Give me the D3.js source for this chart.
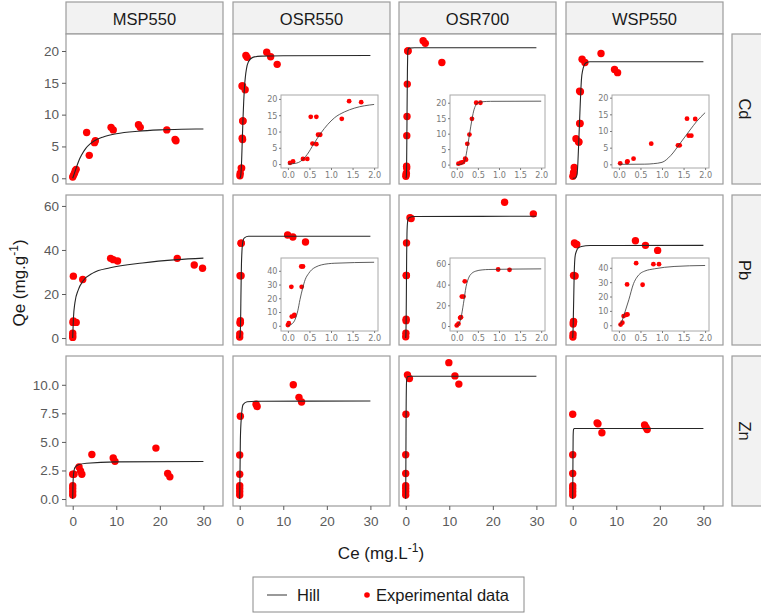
<!DOCTYPE html>
<html>
<head>
<meta charset="utf-8">
<script src="https://cdn.jsdelivr.net/npm/d3@7"></script>
<style>
  body { margin: 0; background: #fff; }
  text { font-family: "Liberation Sans", Arial, Helvetica, sans-serif; }
</style>
</head>
<body>
<div id="chart"></div>
<script>
// ---------------- data ----------------
var metals = ["Cd", "Pb", "Zn"];
var biochars = ["MSP550", "OSR550", "OSR700", "WSP550"];

var xTicks = [0, 10, 20, 30];
var cdTicks = [0, 5, 10, 15, 20];
var pbTicks = [0, 20, 40, 60];
var znTicks = [0, 2.5, 5, 7.5, 10];
var insetXTicks = [0, 0.5, 1, 1.5, 2];
var insetCdTicks = [0, 5, 10, 15, 20];
var insetPbTicks = [0, 10, 20, 30, 40];
var insetPbOSR700Ticks = [0, 20, 40, 60];

// experimental points [Ce, Qe]
var cdMSP550 = [[0,0.2],[0.2,0.5],[0.4,0.8],[0.6,1.2],[0.8,1.4],[3.2,7.2],[3.8,3.6],[5.0,5.6],[5.2,5.9],[8.8,8.0],[9.3,7.6],[15.1,8.4],[15.5,8.0],[21.6,7.6],[23.5,6.1],[23.7,5.9]];
var cdOSR550 = [[0.05,0.4],[0.12,0.8],[0.35,1.6],[0.45,1.6],[0.53,14.5],[0.66,14.5],[0.57,6.3],[0.66,6.1],[0.7,9.0],[0.75,9.0],[1.25,13.9],[1.42,19.3],[1.7,19.0],[6.2,19.8],[7.1,19.1],[8.6,17.9]];
var cdOSR700 = [[0.04,0.3],[0.1,0.6],[0.15,0.8],[0.2,1.9],[0.22,1.6],[0.25,6.7],[0.3,9.7],[0.36,14.8],[0.46,20.0],[0.56,20.0],[4.0,21.6],[4.5,21.2],[8.3,18.2]];
var cdWSP550 = [[0.03,0.3],[0.19,0.7],[0.2,0.9],[0.34,1.7],[0.75,6.2],[1.37,5.7],[1.41,5.7],[1.58,13.7],[1.62,8.6],[1.68,8.6],[1.77,13.6],[2.15,18.7],[2.8,18.2],[6.5,19.6],[9.6,17.1],[10.3,16.6]];

var pbMSP550 = [[0,0.3],[0,1.0],[0,2.2],[0.05,7.1],[0.15,7.8],[0.8,7.1],[0.15,28.1],[2.3,26.6],[8.7,36.2],[9.3,35.6],[10.3,35.0],[24.0,36.2],[27.9,33.2],[29.8,31.7]];
var pbOSR550 = [[0,0.5],[0.02,1.9],[0.09,6.7],[0.14,7.2],[0.15,7.9],[0.08,28.3],[0.32,28.3],[0.31,43.1],[0.35,43.1],[11.0,46.8],[12.2,45.9],[15.1,43.6]];
var pbOSR700 = [[0,0.6],[0.04,2.2],[0.08,7.9],[0.1,8.5],[0.12,28.4],[0.16,28.4],[0.19,43.2],[0.98,54.6],[1.25,54.3],[22.7,61.7],[29.3,56.4]];
var pbWSP550 = [[0.04,0.5],[0.08,1.8],[0.11,6.4],[0.17,7.3],[0.2,7.5],[0.19,28.4],[0.4,43.2],[0.55,28.2],[0.8,42.5],[0.93,42.5],[14.4,44.2],[16.7,42.1],[19.5,39.8]];

var znMSP550 = [[0,0.35],[0,0.64],[0,0.93],[0,1.16],[0,2.17],[0.3,2.17],[1.45,2.8],[1.8,2.46],[2.1,2.17],[4.4,3.9],[9.3,3.6],[9.7,3.3],[19.1,4.46],[21.8,2.23],[22.3,1.94]];
var znOSR550 = [[0,0.35],[0,0.64],[0,0.93],[0,1.16],[0,2.17],[0,3.86],[0.15,7.25],[3.75,8.3],[4.0,8.1],[12.3,10.0],[13.6,8.9],[14.2,8.5]];
var znOSR700 = [[0,0.35],[0,0.64],[0,0.93],[0,1.16],[0,2.23],[0,3.88],[0.05,7.42],[0.4,10.87],[0.85,10.55],[9.9,11.94],[11.3,10.78],[12.2,10.06]];
var znWSP550 = [[0,0.35],[0,0.64],[0,0.93],[0,1.16],[0,2.23],[0,3.88],[0,7.42],[5.6,6.67],[5.8,6.58],[6.7,5.8],[16.5,6.49],[16.8,6.29],[17.1,6.09]];

// Hill fit lines, read as points along the drawn curve [Ce, Qe]
var cdMSP550Hill = [[0,0],[0.5,1.0],[1,2.0],[1.5,2.9],[2,3.6],[3,4.7],[4,5.4],[5,5.9],[7,6.5],[10,7.0],[15,7.4],[20,7.6],[25,7.7],[30,7.75]];
var cdOSR550Hill = [[0,0],[0.2,0.3],[0.3,0.9],[0.45,3.0],[0.6,6.2],[0.77,9.6],[0.92,12.1],[1.08,14.2],[1.31,16.0],[1.55,17.2],[2,18.3],[3,19.0],[5,19.2],[10,19.25],[30,19.3]];
var cdOSR700Hill = [[0,0],[0.1,0.1],[0.16,0.6],[0.2,1.7],[0.24,4.5],[0.27,7.0],[0.31,10.5],[0.35,13.8],[0.4,17.3],[0.45,19.2],[0.5,20.0],[0.6,20.3],[0.8,20.45],[2,20.5],[30,20.5]];
var cdWSP550Hill = [[0,0],[0.6,0.05],[0.8,0.2],[1.0,0.6],[1.2,2.6],[1.42,6.3],[1.65,10.3],[1.8,12.8],[2,15.5],[2.3,17.0],[2.6,17.7],[3,18.1],[4,18.3],[30,18.3]];

var pbMSP550Hill = [[0,0],[0.15,8.5],[0.5,16],[1.3,22],[2.4,26],[4.7,29.6],[8.6,31.9],[16,34.1],[24,35.6],[30,36.3]];
var pbOSR550Hill = [[0,0],[0.1,1.5],[0.17,4.8],[0.23,11],[0.28,19],[0.34,27],[0.4,33.5],[0.48,38],[0.55,40.7],[0.65,42.8],[0.78,44.3],[1.09,45.5],[2,46.2],[30,46.2]];
var pbOSR700Hill = [[0,0],[0.05,2],[0.1,7.9],[0.16,22],[0.22,37.9],[0.29,47.3],[0.36,51],[0.45,53],[0.6,54.2],[0.76,54.6],[2,55.2],[30,55.3]];
var pbWSP550Hill = [[0,0],[0.05,1.5],[0.11,6.4],[0.17,12],[0.23,17.7],[0.34,29],[0.42,33.5],[0.49,35.9],[0.6,37.7],[0.83,39.3],[1.28,40.9],[2,41.6],[4,42],[30,42.1]];

var znMSP550Hill = [[0,0],[0.05,1.0],[0.15,2.0],[0.5,2.75],[1.3,3.0],[3.2,3.13],[10,3.25],[30,3.28]];
var znOSR550Hill = [[0,0],[0.15,5.2],[0.4,7.25],[0.77,8.26],[1.7,8.52],[5,8.56],[30,8.58]];
var znOSR700Hill = [[0,0],[0.05,4],[0.1,8],[0.2,10.3],[0.4,10.7],[1,10.75],[30,10.75]];
var znWSP550Hill = [[0,0],[0.05,3],[0.1,5.5],[0.2,6.1],[0.4,6.17],[30,6.17]];

var points = {
  Cd: { MSP550: cdMSP550, OSR550: cdOSR550, OSR700: cdOSR700, WSP550: cdWSP550 },
  Pb: { MSP550: pbMSP550, OSR550: pbOSR550, OSR700: pbOSR700, WSP550: pbWSP550 },
  Zn: { MSP550: znMSP550, OSR550: znOSR550, OSR700: znOSR700, WSP550: znWSP550 }
};
var hills = {
  Cd: { MSP550: cdMSP550Hill, OSR550: cdOSR550Hill, OSR700: cdOSR700Hill, WSP550: cdWSP550Hill },
  Pb: { MSP550: pbMSP550Hill, OSR550: pbOSR550Hill, OSR700: pbOSR700Hill, WSP550: pbWSP550Hill },
  Zn: { MSP550: znMSP550Hill, OSR550: znOSR550Hill, OSR700: znOSR700Hill, WSP550: znWSP550Hill }
};

// ---------------- layout ----------------
var svgWidth = 761;
var svgHeight = 615;

var colX = [66, 233, 399, 566];
var rowY = [34, 195, 356];
var pw = 157, ph = 150;

var xDomain = [-1.54, 34.5];
var rowDomains = [[-0.9, 22.67], [-3.16, 64.96], [-0.61, 12.52]];
var rowTicks = [cdTicks, pbTicks, znTicks];

// zoomed insets (Ce 0-2) inside some panels
var insets = {
  "Cd-OSR550": { domain: [-1.2, 21.2], ticks: insetCdTicks },
  "Cd-OSR700": { domain: [-1.1, 22.5], ticks: insetCdTicks },
  "Cd-WSP550": { domain: [-1.1, 20.8], ticks: insetCdTicks },
  "Pb-OSR550": { domain: [-3.8, 49.3], ticks: insetPbTicks },
  "Pb-OSR700": { domain: [-4.8, 65.7], ticks: insetPbOSR700Ticks },
  "Pb-WSP550": { domain: [-4.0, 46.8], ticks: insetPbTicks }
};
var insetLeft = [0, 48, 51, 46];
var insetWidth = [0, 97, 95, 97];
var insetTop = [61, 63, 0];
var insetHeight = 73;

var svg = d3.select("#chart")
  .append("svg")
  .attr("width", svgWidth)
  .attr("height", svgHeight);

var defs = svg.append("defs");

var gridGrey = "#9c9c9c";
var tickGrey = "#5a5a5a";

// top strips
biochars.forEach(function(b, ci) {
  svg.append("rect")
    .attr("x", colX[ci]).attr("y", 2)
    .attr("width", pw).attr("height", rowY[0] - 2)
    .attr("fill", "#f2f2f2")
    .attr("stroke", gridGrey).attr("stroke-width", 1.2);
  svg.append("text")
    .attr("x", colX[ci] + pw / 2).attr("y", 25)
    .attr("text-anchor", "middle")
    .attr("font-size", 16.5)
    .attr("fill", "#1a1a1a")
    .text(b);
});

// right strips
metals.forEach(function(m, ri) {
  svg.append("rect")
    .attr("x", 732).attr("y", rowY[ri])
    .attr("width", 32).attr("height", ph)
    .attr("fill", "#f2f2f2")
    .attr("stroke", gridGrey).attr("stroke-width", 1.2);
  svg.append("text")
    .attr("transform", `translate(745, ${rowY[ri] + ph / 2}) rotate(90)`)
    .attr("text-anchor", "middle")
    .attr("dominant-baseline", "central")
    .attr("font-size", 16.5)
    .attr("fill", "#1a1a1a")
    .text(m);
});

var line = d3.line().curve(d3.curveMonotoneX);

function styleAxis(g, size, colour) {
  g.select(".domain").remove();
  g.selectAll(".tick line").attr("stroke", colour);
  g.selectAll(".tick text")
    .attr("fill", colour)
    .attr("font-size", size);
}

// ---------------- panels ----------------
metals.forEach(function(m, ri) {
  biochars.forEach(function(b, ci) {
    var g = svg.append("g")
      .attr("transform", `translate(${colX[ci]}, ${rowY[ri]})`);

    var x = d3.scaleLinear().domain(xDomain).range([0, pw]);
    var y = d3.scaleLinear().domain(rowDomains[ri]).range([ph, 0]);

    var clipId = "clip-" + m + "-" + b;
    defs.append("clipPath").attr("id", clipId)
      .append("rect").attr("width", pw).attr("height", ph);

    g.append("rect")
      .attr("width", pw).attr("height", ph)
      .attr("fill", "#fff");

    var inner = g.append("g").attr("clip-path", `url(#${clipId})`);

    inner.selectAll("circle")
      .data(points[m][b])
      .enter()
      .append("circle")
      .attr("cx", d => x(d[0]))
      .attr("cy", d => y(d[1]))
      .attr("r", 3.7)
      .attr("fill", "#ff0000");

    inner.append("path")
      .attr("d", line(hills[m][b].map(d => [x(d[0]), y(d[1])])))
      .attr("fill", "none")
      .attr("stroke", "#262626")
      .attr("stroke-width", 1.1);

    g.append("rect")
      .attr("width", pw).attr("height", ph)
      .attr("fill", "none")
      .attr("stroke", gridGrey).attr("stroke-width", 1.2);

    if (ci === 0) {
      var yAxis = d3.axisLeft(y).tickValues(rowTicks[ri]).tickSize(4).tickPadding(3);
      if (m === "Zn") yAxis.tickFormat(d3.format(".1f"));
      var ya = g.append("g").call(yAxis);
      styleAxis(ya, 13.5, tickGrey);
    }
    if (ri === metals.length - 1) {
      var xa = g.append("g")
        .attr("transform", `translate(0, ${ph})`)
        .call(d3.axisBottom(x).tickValues(xTicks).tickSize(4).tickPadding(6));
      styleAxis(xa, 13.5, tickGrey);
    }

    // inset
    var ins = insets[m + "-" + b];
    if (ins) {
      var iw = insetWidth[ci], ih = insetHeight;
      var ig = g.append("g")
        .attr("transform", `translate(${insetLeft[ci]}, ${insetTop[ri]})`);
      var ix = d3.scaleLinear().domain([-0.16, 2.09]).range([0, iw]);
      var iy = d3.scaleLinear().domain(ins.domain).range([ih, 0]);

      ig.append("rect")
        .attr("x", -14).attr("y", -3)
        .attr("width", iw + 17).attr("height", ih + 16)
        .attr("fill", "#fff");

      ig.selectAll("circle")
        .data(points[m][b].filter(d => d[0] <= 2))
        .enter()
        .append("circle")
        .attr("cx", d => ix(d[0]))
        .attr("cy", d => iy(d[1]))
        .attr("r", 2.4)
        .attr("fill", "#ff0000");

      ig.append("path")
        .attr("d", line(hills[m][b].filter(d => d[0] <= 2).map(d => [ix(d[0]), iy(d[1])])))
        .attr("fill", "none")
        .attr("stroke", "#333")
        .attr("stroke-width", 0.8);

      ig.append("rect")
        .attr("width", iw).attr("height", ih)
        .attr("fill", "none")
        .attr("stroke", "#a8a8a8").attr("stroke-width", 1);

      var iya = ig.append("g")
        .call(d3.axisLeft(iy).tickValues(ins.ticks).tickSize(2).tickPadding(1.5));
      styleAxis(iya, 9, "#7a7a7a");
      var ixa = ig.append("g")
        .attr("transform", `translate(0, ${ih})`)
        .call(d3.axisBottom(ix).tickValues(insetXTicks).tickSize(2).tickPadding(2)
          .tickFormat(d3.format(".1f")));
      styleAxis(ixa, 9, "#7a7a7a");
      ig.selectAll(".tick text")
        .style("font-family", "'Liberation Sans Narrow', 'DejaVu Sans Condensed', sans-serif");
    }
  });
});

// ---------------- axis titles ----------------
var yTitle = svg.append("text")
  .attr("transform", "translate(25, 283) rotate(-90)")
  .attr("text-anchor", "middle")
  .attr("font-size", 17)
  .attr("fill", "#1a1a1a");
yTitle.append("tspan").text("Qe (mg.g");
yTitle.append("tspan").attr("dy", -7).attr("font-size", 12).text("-1");
yTitle.append("tspan").attr("dy", 7).text(")");

var xTitle = svg.append("text")
  .attr("x", 381).attr("y", 559)
  .attr("text-anchor", "middle")
  .attr("font-size", 17)
  .attr("fill", "#1a1a1a");
xTitle.append("tspan").text("Ce (mg.L");
xTitle.append("tspan").attr("dy", -7).attr("font-size", 12).text("-1");
xTitle.append("tspan").attr("dy", 7).text(")");

// ---------------- legend ----------------
var legend = svg.append("g");
legend.append("rect")
  .attr("x", 253).attr("y", 577)
  .attr("width", 271).attr("height", 35)
  .attr("fill", "#fff")
  .attr("stroke", "#8a8a8a").attr("stroke-width", 1);
legend.append("line")
  .attr("x1", 267).attr("x2", 287)
  .attr("y1", 595).attr("y2", 595)
  .attr("stroke", "#555").attr("stroke-width", 1.2);
legend.append("text")
  .attr("x", 297).attr("y", 601)
  .attr("font-size", 16.5).attr("fill", "#1a1a1a")
  .text("Hill");
legend.append("circle")
  .attr("cx", 367).attr("cy", 595).attr("r", 2.8)
  .attr("fill", "#ff0000");
legend.append("text")
  .attr("x", 376).attr("y", 601)
  .attr("font-size", 16.5).attr("fill", "#1a1a1a")
  .text("Experimental data");
</script>
</body>
</html>
